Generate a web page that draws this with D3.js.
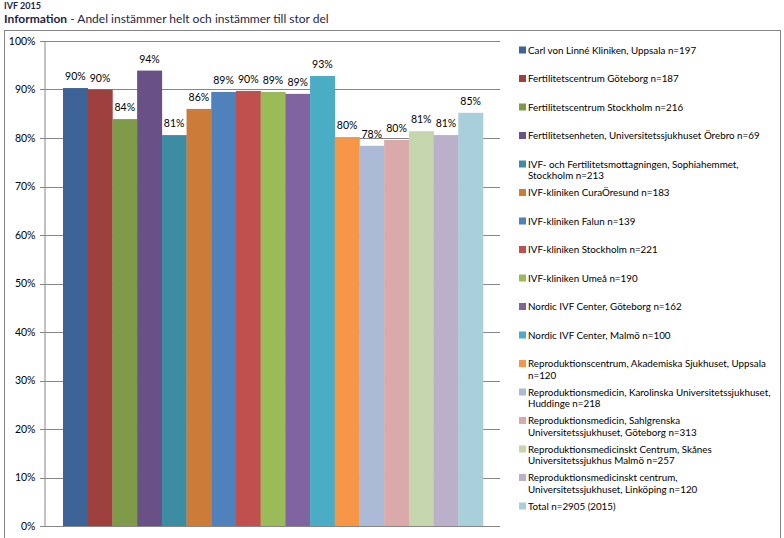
<!DOCTYPE html>
<html><head><meta charset="utf-8">
<script src="https://cdn.jsdelivr.net/npm/d3@7"></script>
<style>
body{margin:0;background:#fff;}
svg{display:block;font-family:Lato,"Open Sans",sans-serif;}
</style></head>
<body><svg id="c" width="784" height="538"></svg>
<script>
// legend labels, with the line breaks seen in the reference
const clinicLines = [
  ["Carl von Linné Kliniken, Uppsala n=197"],
  ["Fertilitetscentrum Göteborg n=187"],
  ["Fertilitetscentrum Stockholm n=216"],
  ["Fertilitetsenheten, Universitetssjukhuset Örebro n=69"],
  ["IVF- och Fertilitetsmottagningen, Sophiahemmet,", "Stockholm n=213"],
  ["IVF-kliniken CuraÖresund n=183"],
  ["IVF-kliniken Falun n=139"],
  ["IVF-kliniken Stockholm n=221"],
  ["IVF-kliniken Umeå n=190"],
  ["Nordic IVF Center, Göteborg n=162"],
  ["Nordic IVF Center, Malmö n=100"],
  ["Reproduktionscentrum, Akademiska Sjukhuset, Uppsala", "n=120"],
  ["Reproduktionsmedicin, Karolinska Universitetssjukhuset,", "Huddinge n=218"],
  ["Reproduktionsmedicin, Sahlgrenska", "Universitetssjukhuset, Göteborg n=313"],
  ["Reproduktionsmedicinskt Centrum, Skånes", "Universitetssjukhus Malmö n=257"],
  ["Reproduktionsmedicinskt centrum,", "Universitetssjukhuset, Linköping n=120"],
  ["Total n=2905 (2015)"]
];
const clinics = clinicLines.map(l => l.join(" "));
const values = [90.3, 90.0, 83.9, 93.9, 80.6, 86.0, 89.5, 89.7, 89.5, 89.1, 92.8, 80.2, 78.4, 79.6, 81.4, 80.6, 85.2];
const valueLabels = ["90%","90%","84%","94%","81%","86%","89%","90%","89%","89%","93%","80%","78%","80%","81%","81%","85%"];
const colors = ["#3E6497","#9E413E","#7F9A48","#695185","#3C8DA3","#CC7B38","#4F81BD","#C0504D","#9BBB59","#8064A2","#4BACC6","#F79646","#AABAD7","#D9AAA9","#C6D6AC","#BAB0C9","#A9CFDA"];
const yTicks = [0,10,20,30,40,50,60,70,80,90,100];
const supTitle = "IVF 2015";
const titleBold = "Information";
const titleRest = " - Andel instämmer helt och instämmer till stor del";

const svg = d3.select("#c");
// titles
svg.append("text").attr("x",4).attr("y",9).attr("font-size",9).attr("font-weight","bold").attr("fill","#1f1f3f").text(supTitle);
const t = svg.append("text").attr("x",4).attr("y",23).attr("font-size",12).attr("fill","#1f1f3f");
t.append("tspan").attr("font-weight","bold").text(titleBold);
t.append("tspan").text(titleRest);

// border
svg.append("rect").attr("x",4.5).attr("y",30.5).attr("width",776).attr("height",520).attr("fill","none").attr("stroke","#868686").attr("stroke-width",1);

const plot = {left:44, right:500, top:41, bottom:526};
const y = d3.scaleLinear().domain([0,100]).range([plot.bottom, plot.top]);
const x = d3.scaleBand().domain(clinics).range([63, 483]).padding(0);

// gridlines
svg.append("g").selectAll("line").data(yTicks).join("line")
  .attr("x1",plot.left-4).attr("x2",plot.right)
  .attr("y1",d=>Math.round(y(d))+0.5).attr("y2",d=>Math.round(y(d))+0.5)
  .attr("stroke","#868686").attr("stroke-width",1);

// y axis
const yAxis = d3.axisLeft(y).tickValues(yTicks).tickFormat(d=>d+"%").tickSize(0).tickPadding(9);
const ga = svg.append("g").attr("transform",`translate(${plot.left+0.5},0)`).call(yAxis);
ga.select(".domain").attr("stroke","#868686");
ga.selectAll("text").attr("font-size",10.5).attr("fill","#000").attr("font-family","Lato,sans-serif");

// bars
svg.append("g").selectAll("rect").data(values).join("rect")
  .attr("x",(d,i)=>x(clinics[i]))
  .attr("width",x.bandwidth()+0.3)
  .attr("y",d=>y(d))
  .attr("height",d=>y(0)-y(d))
  .attr("fill",(d,i)=>colors[i]);

// bar labels
svg.append("g").selectAll("text").data(values).join("text")
  .attr("x",(d,i)=>x(clinics[i])+x.bandwidth()/2)
  .attr("y",d=>y(d)-8)
  .attr("text-anchor","middle").attr("font-size",10.5).attr("fill","#000")
  .text((d,i)=>valueLabels[i]);

// legend
const lg = svg.append("g");
const step = 28.5, tx = 528;
clinicLines.forEach((lines,i)=>{
  const yy = 50 + i*step;
  lg.append("rect").attr("x",519).attr("y",yy-3.5).attr("width",7).attr("height",7).attr("fill",colors[i]);
  const txt = lg.append("text").attr("x",tx).attr("y",yy+3.6).attr("font-size",9.8).attr("fill","#000");
  lines.forEach((l,j)=>{
    txt.append("tspan").attr("x",tx).attr("dy", j ? 11.7 : 0).text(l);
  });
});
</script></body></html>
